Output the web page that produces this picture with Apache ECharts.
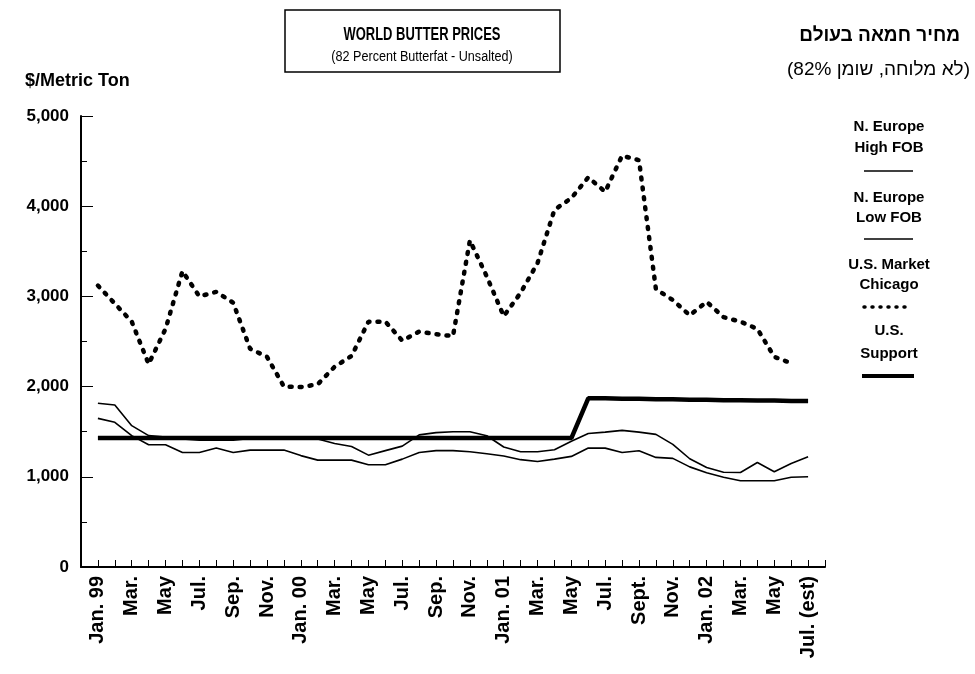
<!DOCTYPE html>
<html>
<head>
<meta charset="utf-8">
<script src="https://cdn.jsdelivr.net/npm/echarts@6/dist/echarts.min.js"></script>
<style>
html, body { margin: 0; padding: 0; background: #fff; }
#chart { width: 975px; height: 674px; }
</style>
</head>
<body>
<div id="chart"></div>
<script>
// 月份标签：1999年1月 ~ 2002年7月，每两个月显示一个
const monthLabels = ['Jan. 99', '', 'Mar.', '', 'May', '', 'Jul.', '', 'Sep.', '', 'Nov.', '',
  'Jan. 00', '', 'Mar.', '', 'May', '', 'Jul.', '', 'Sep.', '', 'Nov.', '',
  'Jan. 01', '', 'Mar.', '', 'May', '', 'Jul.', '', 'Sept.', '', 'Nov.', '',
  'Jan. 02', '', 'Mar.', '', 'May', '', 'Jul. (est)']

// 价格（$/公吨）
const highFob = [1815, 1796, 1567, 1456, 1440, 1420, 1405, 1405, 1405, 1425, 1430, 1430,
  1430, 1420, 1370, 1335, 1240, 1290, 1340, 1465, 1490, 1500, 1500, 1455,
  1330, 1278, 1278, 1300, 1395, 1480, 1495, 1515, 1495, 1470, 1360, 1200,
  1104, 1050, 1048, 1159, 1056, 1148, 1222]
const lowFob = [1648, 1604, 1456, 1356, 1356, 1270, 1270, 1319, 1270, 1296, 1296, 1296,
  1235, 1185, 1185, 1185, 1133, 1133, 1196, 1270, 1290, 1290, 1278, 1255,
  1230, 1190, 1170, 1196, 1226, 1320, 1318, 1270, 1289, 1215, 1204, 1110,
  1045, 995, 956, 956, 956, 995, 1000]
const chicago = [3120, 2920, 2720, 2250, 2640, 3280, 3000, 3050, 2930, 2420, 2330, 2000,
  1995, 2025, 2220, 2340, 2720, 2720, 2510, 2610, 2580, 2560, 3620, 3220,
  2780, 3040, 3370, 3960, 4090, 4320, 4160, 4560, 4510, 3080, 2960, 2790,
  2940, 2770, 2720, 2640, 2330, 2260]
const support = [1430, 1430, 1430, 1430, 1430, 1430, 1430, 1430, 1430, 1430, 1430, 1430,
  1430, 1430, 1430, 1430, 1430, 1430, 1430, 1430, 1430, 1430, 1430, 1430,
  1430, 1430, 1430, 1430, 1430, 1870, 1870, 1865, 1865, 1860, 1860, 1855,
  1855, 1850, 1850, 1845, 1845, 1840, 1840]

const FONT = '"Liberation Sans", Arial, sans-serif'

function toPoints (arr) {
  return arr.map((v, i) => [i, v])
}

let chart = echarts.init(document.getElementById('chart'))

let option = {
  animation: false,
  backgroundColor: '#fff',
  grid: {
    left: 81,
    right: 150,
    top: 116,
    bottom: 107
  },
  xAxis: {
    type: 'value',
    min: -1,
    max: 43,
    interval: 1,
    splitLine: { show: false },
    axisLine: { show: true, onZero: false, lineStyle: { color: '#000', width: 2 } },
    axisTick: { show: true, inside: true, length: 7, lineStyle: { color: '#000', width: 1 } },
    axisLabel: {
      rotate: 90,
      margin: 9,
      color: '#000',
      fontFamily: FONT,
      fontWeight: 'bold',
      fontSize: 20,
      formatter: function (v) {
        return monthLabels[v] || ''
      }
    }
  },
  yAxis: {
    type: 'value',
    min: 0,
    max: 5000,
    interval: 1000,
    splitLine: { show: false },
    axisLine: { show: true, onZero: false, lineStyle: { color: '#000', width: 2 } },
    axisTick: { show: true, inside: true, length: 12, lineStyle: { color: '#000', width: 1 } },
    minorTick: { show: true, splitNumber: 2, length: 6, lineStyle: { color: '#000', width: 1 } },
    axisLabel: {
      margin: 12,
      color: '#000',
      fontFamily: FONT,
      fontWeight: 'bold',
      fontSize: 17
    }
  },
  series: [
    {
      name: 'U.S. Support',
      type: 'line',
      data: toPoints(support),
      symbol: 'none',
      lineStyle: { color: '#000', width: 4.5 }
    },
    {
      name: 'N. Europe High FOB',
      type: 'line',
      data: toPoints(highFob),
      symbol: 'none',
      lineStyle: { color: '#000', width: 1.6 }
    },
    {
      name: 'N. Europe Low FOB',
      type: 'line',
      data: toPoints(lowFob),
      symbol: 'none',
      lineStyle: { color: '#000', width: 1.6 }
    },
    {
      name: 'U.S. Market Chicago',
      type: 'line',
      data: toPoints(chicago),
      symbol: 'none',
      lineStyle: { color: '#000', width: 4.5, type: [2, 8], cap: 'round' }
    }
  ],
  graphic: [
    // 标题框
    {
      type: 'rect',
      shape: { x: 285, y: 10, width: 275, height: 62 },
      style: { fill: '#fff', stroke: '#000', lineWidth: 1.5 }
    },
    {
      type: 'text',
      x: 422, y: 35, scaleX: 0.72,
      style: { text: 'WORLD BUTTER PRICES', x: 0, y: 0, align: 'center', verticalAlign: 'middle',
        font: 'bold 18px ' + FONT, fill: '#000' }
    },
    {
      type: 'text',
      x: 422, y: 57, scaleX: 0.9,
      style: { text: '(82 Percent Butterfat - Unsalted)', x: 0, y: 0, align: 'center', verticalAlign: 'middle',
        font: '14px ' + FONT, fill: '#000' }
    },
    // 希伯来文标题
    {
      type: 'text',
      style: { text: 'מחיר חמאה בעולם', x: 960, y: 36, align: 'right', verticalAlign: 'middle',
        font: 'bold 19px ' + FONT, fill: '#000' }
    },
    {
      type: 'text',
      style: { text: '(לא מלוחה, שומן 82%)', x: 970, y: 70, align: 'right', verticalAlign: 'middle',
        font: '19px ' + FONT, fill: '#000' }
    },
    // y轴单位
    {
      type: 'text',
      style: { text: '$/Metric Ton', x: 25, y: 81, align: 'left', verticalAlign: 'middle',
        font: 'bold 18px ' + FONT, fill: '#000' }
    },
    // 图例
    { type: 'text', style: { text: 'N. Europe', x: 889, y: 127, align: 'center', verticalAlign: 'middle', font: 'bold 15px ' + FONT, fill: '#000' } },
    { type: 'text', style: { text: 'High FOB', x: 889, y: 148, align: 'center', verticalAlign: 'middle', font: 'bold 15px ' + FONT, fill: '#000' } },
    { type: 'line', shape: { x1: 864, y1: 171, x2: 913, y2: 171 }, style: { stroke: '#000', lineWidth: 1.6 } },
    { type: 'text', style: { text: 'N. Europe', x: 889, y: 198, align: 'center', verticalAlign: 'middle', font: 'bold 15px ' + FONT, fill: '#000' } },
    { type: 'text', style: { text: 'Low FOB', x: 889, y: 218, align: 'center', verticalAlign: 'middle', font: 'bold 15px ' + FONT, fill: '#000' } },
    { type: 'line', shape: { x1: 864, y1: 239, x2: 913, y2: 239 }, style: { stroke: '#000', lineWidth: 1.6 } },
    { type: 'text', style: { text: 'U.S. Market', x: 889, y: 265, align: 'center', verticalAlign: 'middle', font: 'bold 15px ' + FONT, fill: '#000' } },
    { type: 'text', style: { text: 'Chicago', x: 889, y: 285, align: 'center', verticalAlign: 'middle', font: 'bold 15px ' + FONT, fill: '#000' } },
    { type: 'line', shape: { x1: 864, y1: 307, x2: 911, y2: 307 }, style: { stroke: '#000', lineWidth: 3.5, lineDash: [1, 7], lineCap: 'round' } },
    { type: 'text', style: { text: 'U.S.', x: 889, y: 331, align: 'center', verticalAlign: 'middle', font: 'bold 15px ' + FONT, fill: '#000' } },
    { type: 'text', style: { text: 'Support', x: 889, y: 354, align: 'center', verticalAlign: 'middle', font: 'bold 15px ' + FONT, fill: '#000' } },
    { type: 'line', shape: { x1: 862, y1: 376, x2: 914, y2: 376 }, style: { stroke: '#000', lineWidth: 4 } }
  ]
}

chart.setOption(option)
</script>
</body>
</html>
